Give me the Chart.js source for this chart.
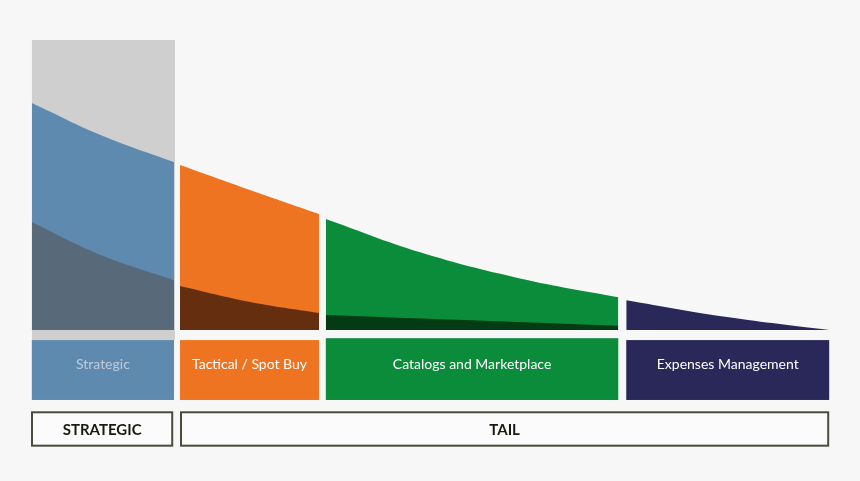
<!DOCTYPE html>
<html>
<head>
<meta charset="utf-8">
<script src="https://cdn.jsdelivr.net/npm/chart.js@4.4.1/dist/chart.umd.min.js"></script>
<style>
  html, body { margin: 0; padding: 0; background: #f7f7f7; }
  #wrap { width: 860px; height: 481px; position: relative; }
</style>
</head>
<body>
<div id="wrap"><canvas id="c"></canvas></div>
<script>
// ---- data (x = share of suppliers, y = share of spend) ----
const segments = ['Strategic', 'Tactical / Spot Buy', 'Catalogs and Marketplace', 'Expenses Management'];
const segStart = [0.1, 18.65, 36.9, 74.5];
const segEnd   = [17.9, 36.05, 73.5, 99.9];
const groups = ['STRATEGIC', 'TAIL'];
const groupStart = [0.0, 18.65];
const groupEnd   = [17.8, 99.9];

const strategicCeiling = 100;
const xStrategic = [0.1, 9.0, 17.9];
const strategicTotal = [78.3, 66.9, 57.9];
const strategicCore  = [37.2, 25.6, 17.2];

const xTactical = [18.65, 27.4, 36.05];
const tacticalTotal = [56.9, 48.3, 40.0];
const tacticalCore  = [15.2, 9.7, 5.9];

const xCatalogs = [36.9, 48.7, 61.2, 73.5];
const catalogsTotal = [38.3, 26.8, 17.8, 11.3];
const xCatalogsCore = [36.9, 73.5];
const catalogsCore  = [5.2, 1.5];

const xExpenses = [74.5, 87.1, 99.9];
const expensesTotal = [10.3, 4.5, 0.0];

// ---- styles ----
const segColors = ['#5e8ab0', '#ee7421', '#0a8c3a', '#2a2858'];
const coreColors = ['#586a7a', '#652f0f', '#033b14', '#2a2858'];
const labelTextColors = ['#c2cbd5', '#ffffff', '#ffffff', '#ffffff'];

const pts = (xs, ys) => xs.map((x, i) => ({ x: x, y: ys[i] }));

function area(xs, ys, color, order, fillTo) {
  return {
    data: pts(xs, ys),
    backgroundColor: color,
    borderColor: color,
    borderWidth: 0,
    pointRadius: 0,
    fill: fillTo === undefined ? 'origin' : { value: fillTo },
    tension: 0.4,
    order: order
  };
}

const datasets = [
  area([segStart[0], segEnd[0] + 0.12], [strategicCeiling, strategicCeiling], '#cfcfcf', 3, -3.45),
  area(xStrategic, strategicTotal, segColors[0], 2),
  area(xStrategic, strategicCore, coreColors[0], 1),
  area(xTactical, tacticalTotal, segColors[1], 2),
  area(xTactical, tacticalCore, coreColors[1], 1),
  area(xCatalogs, catalogsTotal, segColors[2], 2),
  area(xCatalogsCore, catalogsCore, coreColors[2], 1),
  area(xExpenses, expensesTotal, segColors[3], 2)
];

const boxesPlugin = {
  id: 'boxes',
  afterDatasetsDraw(chart) {
    const ctx = chart.ctx;
    const xs = chart.scales.x, ys = chart.scales.y;
    ctx.save();
    // segment label boxes
    segments.forEach((name, i) => {
      const l = xs.getPixelForValue(segStart[i]);
      const r = xs.getPixelForValue(segEnd[i]);
      const t = ys.getPixelForValue(i === 2 ? -2.8 : -3.45);
      const b = ys.getPixelForValue(-24.1);
      ctx.fillStyle = segColors[i];
      ctx.fillRect(l, t, r - l, b - t);
      ctx.fillStyle = labelTextColors[i];
      ctx.font = '14px Lato';
      ctx.textAlign = 'center';
      ctx.textBaseline = 'middle';
      ctx.fillText(name, (l + r) / 2, ys.getPixelForValue(-11.7));
    });
    // group boxes
    groups.forEach((name, i) => {
      const l = xs.getPixelForValue(groupStart[i]);
      const r = xs.getPixelForValue(groupEnd[i]);
      const t = ys.getPixelForValue(-28.0);
      const b = ys.getPixelForValue(-40.2);
      ctx.fillStyle = '#fbfbfb';
      ctx.fillRect(l, t, r - l, b - t);
      ctx.strokeStyle = '#4b4b3d';
      ctx.lineWidth = 2;
      ctx.strokeRect(l + 1, t + 1, r - l - 2, b - t - 2);
      ctx.fillStyle = '#1a1a12';
      ctx.font = 'bold 15px Lato';
      ctx.textAlign = 'center';
      ctx.textBaseline = 'middle';
      ctx.fillText(name, (l + r) / 2, (t + b) / 2 + 1);
    });
    ctx.restore();
  }
};

new Chart(document.getElementById('c'), {
  type: 'line',
  data: { datasets: datasets },
  options: {
    responsive: true,
    maintainAspectRatio: false,
    animation: false,
    layout: { padding: { top: 40, bottom: 32, left: 31, right: 30 } },
    plugins: { legend: { display: false }, tooltip: { enabled: false } },
    scales: {
      x: { type: 'linear', min: 0, max: 100, display: false },
      y: { type: 'linear', min: -41, max: 100, display: false }
    }
  },
  plugins: [boxesPlugin]
});
</script>
</body>
</html>
